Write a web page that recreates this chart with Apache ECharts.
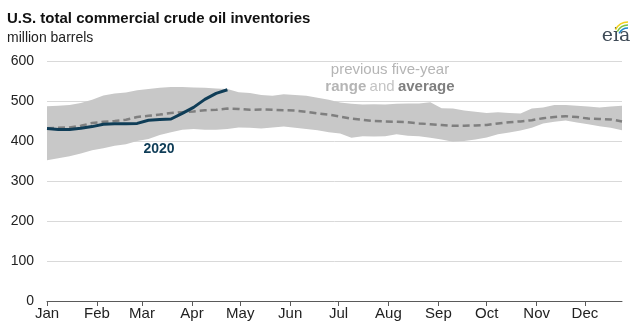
<!DOCTYPE html>
<html>
<head>
<meta charset="utf-8">
<script src="https://cdn.jsdelivr.net/npm/echarts@6/dist/echarts.min.js"></script>
<style>
html,body{margin:0;padding:0;background:#fff;}
#c{width:633px;height:327px;}
</style>
</head>
<body>
<div id="c"></div>
<script>
// Weekly positions (day of year) and month tick labels
var weekDays = [];
for (var w = 0; w < 52; w++) weekDays.push(w * 7);
var monthLabels = ['Jan','Feb','Mar','Apr','May','Jun','Jul','Aug','Sep','Oct','Nov','Dec'];
var monthStartDays = [0,31,59,90,120,151,181,212,243,273,304,334];
var yTicks = [0,100,200,300,400,500,600];

// 2020 weekly inventories (million barrels)
var inv2020 = [431,429,429,432,436,442,443,443,444,452,454,455,469,484,504,519,528];

// Previous five-year range and average
var rangeHigh = [487,488,490,495,503,514,519,521,527,530,533,535,535,534,533,531,530,522,520,515,513,517,515,513,508,503,496,493,491,492,491,493,494,494,497,482,481,476,473,470,472,470,469,481,484,490,490,488,486,484,486,488];
var rangeLow = [352,357,362,369,377,382,388,392,400,405,415,422,428,430,428,428,430,434,433,431,434,436,433,430,427,422,419,408,412,411,412,417,413,412,408,404,398,400,404,409,417,421,426,433,444,448,451,446,442,437,433,427];
var avg5 = [432,433,434,438,445,448,450,453,460,463,466,470,472,474,477,478,481,480,478,479,478,477,476,473,469,466,461,456,453,450,449,448,447,444,442,440,438,438,439,440,444,447,449,452,457,460,462,460,456,455,454,449];

function pairs(xs, ys) { return ys.map(function (v, i) { return [xs[i], v]; }); }
var bandData = weekDays.map(function (d, i) { return [d, rangeLow[i], rangeHigh[i]]; });

var chart = echarts.init(document.getElementById('c'), null, {renderer: 'canvas'});
var option = {
  animation: false,
  backgroundColor: '#ffffff',
  textStyle: {fontFamily: 'Liberation Sans, Arial, sans-serif'},
  grid: {left: 47, right: 11, top: 61, bottom: 26, containLabel: false},
  xAxis: {
    type: 'value', min: 0, max: 357,
    axisLine: {show: true, lineStyle: {color: '#5a5a5a', width: 1}},
    axisTick: {show: true, length: 5, customValues: monthStartDays, lineStyle: {color: '#5a5a5a'}},
    axisLabel: {
      customValues: monthStartDays,
      formatter: function (v) { var i = monthStartDays.indexOf(v); return i >= 0 ? monthLabels[i] : ''; },
      color: '#222', fontSize: 15, margin: 5,
      fontFamily: 'Liberation Sans Narrow, Arial Narrow, Liberation Sans, sans-serif'
    },
    splitLine: {show: false}
  },
  yAxis: {
    type: 'value', min: 0, max: 600, interval: 100,
    axisLine: {show: false}, axisTick: {show: false},
    axisLabel: {color: '#222', fontSize: 14, margin: 13},
    splitLine: {show: true, lineStyle: {color: '#d9d9d9', width: 1}}
  },
  series: [
    {type: 'custom', name: 'range', data: bandData, silent: true, z: 1,
     encode: {x: 0, y: [1, 2]},
     renderItem: function (params, api) {
       if (params.dataIndex !== 0) return null;
       var top = [], bot = [];
       for (var i = 0; i < bandData.length; i++) {
         top.push(api.coord([bandData[i][0], bandData[i][2]]));
         bot.push(api.coord([bandData[i][0], bandData[i][1]]));
       }
       var pts = top.concat(bot.reverse());
       return {type: 'polygon', shape: {points: pts}, style: {fill: '#c8c8c8'}};
     }},
    {type: 'line', name: 'average', data: pairs(weekDays, avg5), symbol: 'none', z: 3,
     lineStyle: {color: '#7f7f7f', width: 2.5, type: [7, 4]}},
    {type: 'line', name: '2020', data: pairs(weekDays, inv2020), symbol: 'none', z: 4,
     lineStyle: {color: '#0f3d57', width: 3}}
  ],
  graphic: [
    {type: 'text', left: 7, top: 11, style: {text: 'U.S. total commercial crude oil inventories', fill: '#111', font: 'bold 15px Liberation Sans, Arial, sans-serif'}},
    {type: 'text', left: 7, top: 31, style: {text: 'million barrels', fill: '#222', font: '14px Liberation Sans, Arial, sans-serif'}},
    {type: 'text', x: 159, y: 149, style: {text: '2020', fill: '#0f3d57', font: 'bold 14px Liberation Sans, Arial, sans-serif', align: 'center', verticalAlign: 'middle'}},
    {type: 'text', x: 390, y: 78, style: {
      text: '{a|previous five-year}\n{b|range} {c|and} {d|average}',
      align: 'center', verticalAlign: 'middle', lineHeight: 17,
      rich: {
        a: {fill: '#b5b5b5', font: '15px Liberation Sans, Arial, sans-serif', lineHeight: 17},
        b: {fill: '#b5b5b5', font: 'bold 15px Liberation Sans, Arial, sans-serif', lineHeight: 17},
        c: {fill: '#c4c4c4', font: '15px Liberation Sans, Arial, sans-serif', lineHeight: 17},
        d: {fill: '#7f7f7f', font: 'bold 15px Liberation Sans, Arial, sans-serif', lineHeight: 17}
      }
    }},
    {type: 'text', x: 616, y: 36, style: {text: 'eia', fill: '#3f4b57', font: '19px DejaVu Serif, Liberation Serif, serif', align: 'center', verticalAlign: 'middle'}},
    {type: 'arc', shape: {cx: 628, cy: 36, r: 14, startAngle: Math.PI * 1.15, endAngle: Math.PI * 1.5}, style: {stroke: '#f2d21b', lineWidth: 1.5, fill: null}},
    {type: 'arc', shape: {cx: 628, cy: 37, r: 12, startAngle: Math.PI * 1.15, endAngle: Math.PI * 1.5}, style: {stroke: '#7cc242', lineWidth: 1.5, fill: null}},
    {type: 'arc', shape: {cx: 628, cy: 38, r: 10, startAngle: Math.PI * 1.15, endAngle: Math.PI * 1.5}, style: {stroke: '#1e88c9', lineWidth: 1.5, fill: null}}
  ]
};
chart.setOption(option);
</script>
</body>
</html>
